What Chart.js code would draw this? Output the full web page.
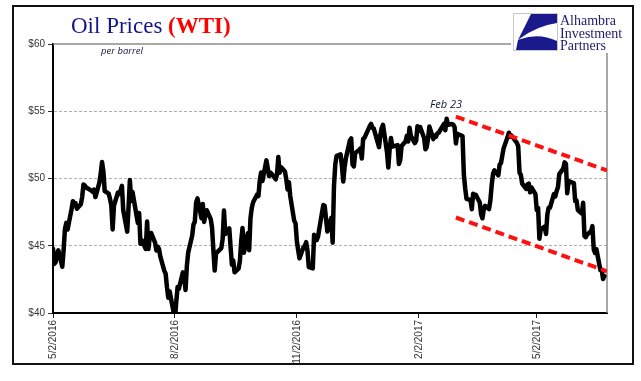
<!DOCTYPE html>
<html><head><meta charset="utf-8">
<script src="https://cdn.jsdelivr.net/npm/chart.js@4.4.1/dist/chart.umd.min.js"></script>
<style>
html,body{margin:0;padding:0;background:#fff;}
#wrap{position:relative;width:641px;height:381px;overflow:hidden;background:#fff;}
#chart{position:absolute;left:0;top:0;}
.frame{position:absolute;left:12px;top:5px;width:622px;height:360px;border:2px solid #111;box-sizing:border-box;pointer-events:none;}
.title{position:absolute;left:71px;top:14px;font:23px/23px "Liberation Serif",serif;color:#15158a;white-space:nowrap;}
.title b{color:#ff0000;}
.note{position:absolute;font-style:italic;color:#14143c;white-space:nowrap;font-family:"Open Sans",sans-serif;}
.logo{position:absolute;left:511px;top:8px;width:121px;height:45px;background:#fff;}
.logobox{position:absolute;left:2px;top:5px;width:45px;height:38px;border:1px solid #c8c8c8;box-sizing:border-box;background:#fff;}
.logotext{position:absolute;left:49px;top:7px;font:14px/12.7px "Liberation Serif",serif;color:#1c1c6e;white-space:nowrap;}
</style></head>
<body>
<div id="wrap">
<canvas id="chart" width="641" height="381"></canvas>
<div class="frame"></div>
<div class="title">Oil Prices <b>(WTI)</b></div>
<div class="note" style="left:101px;top:46px;font-size:9.5px;line-height:10px;">per barrel</div>
<div class="note" style="left:430px;top:98px;font-size:11px;line-height:11px;">Feb 23</div>
<div class="logo">
  <div class="logobox">
    <svg width="43" height="36" viewBox="0 0 43 36">
      <path d="M17,0 L43,0 L43,9 Q22,12 4,26 Z" fill="#1a1a8c"/>
      <path d="M4,26 Q24,18 43,27 L43,36 L2,36 Z" fill="#1a1a8c"/>
    </svg>
  </div>
  <div class="logotext">Alhambra<br>Investment<br>Partners</div>
</div>
</div>
<script>
// ---- data (WTI daily close, USD per barrel) ----
const dates = [
"2016-05-02","2016-05-03","2016-05-04","2016-05-05","2016-05-06","2016-05-09","2016-05-10","2016-05-11","2016-05-12","2016-05-13",
"2016-05-16","2016-05-17","2016-05-18","2016-05-19","2016-05-20","2016-05-23","2016-05-24","2016-05-25","2016-05-26","2016-05-27",
"2016-05-31","2016-06-01","2016-06-02","2016-06-03","2016-06-06","2016-06-07","2016-06-08","2016-06-09","2016-06-10","2016-06-13",
"2016-06-14","2016-06-15","2016-06-16","2016-06-17","2016-06-20","2016-06-21","2016-06-22","2016-06-23","2016-06-24","2016-06-27",
"2016-06-28","2016-06-29","2016-06-30","2016-07-01","2016-07-05","2016-07-06","2016-07-07","2016-07-08","2016-07-11","2016-07-12",
"2016-07-13","2016-07-14","2016-07-15","2016-07-18","2016-07-19","2016-07-20","2016-07-21","2016-07-22","2016-07-25","2016-07-26",
"2016-07-27","2016-07-28","2016-07-29","2016-08-01","2016-08-02","2016-08-03","2016-08-04","2016-08-05","2016-08-08","2016-08-09",
"2016-08-10","2016-08-11","2016-08-12","2016-08-15","2016-08-16","2016-08-17","2016-08-18","2016-08-19","2016-08-22","2016-08-23",
"2016-08-24","2016-08-25","2016-08-26","2016-08-29","2016-08-30","2016-08-31","2016-09-01","2016-09-02","2016-09-06","2016-09-07",
"2016-09-08","2016-09-09","2016-09-12","2016-09-13","2016-09-14","2016-09-15","2016-09-16","2016-09-19","2016-09-20","2016-09-21",
"2016-09-22","2016-09-23","2016-09-26","2016-09-27","2016-09-28","2016-09-29","2016-09-30","2016-10-03","2016-10-04","2016-10-05",
"2016-10-06","2016-10-07","2016-10-10","2016-10-11","2016-10-12","2016-10-13","2016-10-14","2016-10-17","2016-10-18","2016-10-19",
"2016-10-20","2016-10-21","2016-10-24","2016-10-25","2016-10-26","2016-10-27","2016-10-28","2016-10-31","2016-11-01","2016-11-02",
"2016-11-03","2016-11-04","2016-11-07","2016-11-08","2016-11-09","2016-11-10","2016-11-11","2016-11-14","2016-11-15","2016-11-16",
"2016-11-17","2016-11-18","2016-11-21","2016-11-22","2016-11-23","2016-11-25","2016-11-28","2016-11-29","2016-11-30","2016-12-01",
"2016-12-02","2016-12-05","2016-12-06","2016-12-07","2016-12-08","2016-12-09","2016-12-12","2016-12-13","2016-12-14","2016-12-15",
"2016-12-16","2016-12-19","2016-12-20","2016-12-21","2016-12-22","2016-12-23","2016-12-27","2016-12-28","2016-12-29","2016-12-30",
"2017-01-03","2017-01-04","2017-01-05","2017-01-06","2017-01-09","2017-01-10","2017-01-11","2017-01-12","2017-01-13","2017-01-17",
"2017-01-18","2017-01-19","2017-01-20","2017-01-23","2017-01-24","2017-01-25","2017-01-26","2017-01-27","2017-01-30","2017-01-31",
"2017-02-01","2017-02-02","2017-02-03","2017-02-06","2017-02-07","2017-02-08","2017-02-09","2017-02-10","2017-02-13","2017-02-14",
"2017-02-15","2017-02-16","2017-02-17","2017-02-21","2017-02-22","2017-02-23","2017-02-24","2017-02-27","2017-02-28","2017-03-01",
"2017-03-02","2017-03-03","2017-03-06","2017-03-07","2017-03-08","2017-03-09","2017-03-10","2017-03-13","2017-03-14","2017-03-15",
"2017-03-16","2017-03-17","2017-03-20","2017-03-21","2017-03-22","2017-03-23","2017-03-24","2017-03-27","2017-03-28","2017-03-29",
"2017-03-30","2017-03-31","2017-04-03","2017-04-04","2017-04-05","2017-04-06","2017-04-07","2017-04-10","2017-04-11","2017-04-12",
"2017-04-13","2017-04-17","2017-04-18","2017-04-19","2017-04-20","2017-04-21","2017-04-24","2017-04-25","2017-04-26","2017-04-27",
"2017-04-28","2017-05-01","2017-05-02","2017-05-03","2017-05-04","2017-05-05","2017-05-08","2017-05-09","2017-05-10","2017-05-11",
"2017-05-12","2017-05-15","2017-05-16","2017-05-17","2017-05-18","2017-05-19","2017-05-22","2017-05-23","2017-05-24","2017-05-25",
"2017-05-26","2017-05-30","2017-05-31","2017-06-01","2017-06-02","2017-06-05","2017-06-06","2017-06-07","2017-06-08","2017-06-09",
"2017-06-12","2017-06-13","2017-06-14","2017-06-15","2017-06-16","2017-06-19","2017-06-20","2017-06-21","2017-06-22"
];
const wtiPrices = [
44.78,43.65,43.78,44.32,44.66,43.44,44.66,46.23,46.70,46.21,
47.72,48.31,48.19,48.16,47.75,48.08,48.62,49.56,49.48,49.33,
49.10,49.01,49.17,48.62,49.69,50.36,51.23,50.56,49.07,48.88,
48.49,48.01,46.21,47.98,48.96,48.85,49.13,49.45,47.64,46.05,
47.85,49.88,48.33,48.99,46.70,47.43,45.14,45.41,44.76,46.80,
44.75,45.68,45.95,45.24,44.65,44.94,44.75,44.19,43.13,42.92,
41.92,41.14,41.60,40.06,39.51,40.83,41.93,41.80,43.02,42.77,
41.71,43.49,44.49,45.74,46.58,46.79,48.22,48.52,47.05,48.10,
46.77,47.33,47.64,46.98,46.35,44.70,43.16,44.44,44.83,45.50,
47.62,45.88,46.29,44.90,43.58,43.91,43.03,43.30,43.85,45.34,
46.32,44.48,45.93,44.67,47.05,47.83,48.24,48.81,48.69,49.83,
50.44,49.81,51.35,50.79,50.18,50.44,50.35,49.94,50.29,51.60,
50.43,50.85,50.52,49.96,49.18,49.72,48.70,46.86,46.67,45.34,
44.66,44.07,44.89,44.98,45.27,44.66,43.41,43.32,45.81,45.57,
45.42,45.69,47.49,48.03,47.96,46.06,47.08,45.23,49.44,51.06,
51.68,51.79,50.93,49.77,50.84,51.50,52.83,52.98,51.04,50.90,
51.90,52.12,52.23,51.49,52.95,53.02,53.90,54.06,53.77,53.72,
52.33,53.26,53.76,53.99,51.96,50.82,52.19,53.01,52.37,52.48,
51.08,51.37,52.42,52.75,53.18,52.75,53.78,53.17,52.63,52.81,
53.88,53.54,53.83,53.01,52.17,52.34,53.00,53.86,52.93,53.20,
53.11,53.36,53.40,54.06,53.59,54.45,53.99,54.05,54.01,53.83,
52.61,53.33,53.20,53.14,50.28,49.28,48.49,48.40,47.72,48.86,
48.75,48.78,48.22,47.34,47.04,47.70,47.97,47.73,48.37,49.51,
50.35,50.60,50.24,51.03,51.15,51.70,52.24,53.08,53.40,53.11,
53.18,52.65,52.41,50.44,50.27,49.62,49.23,49.56,49.62,48.97,
49.33,48.84,47.66,47.82,45.52,46.22,46.43,45.88,47.33,47.83,
47.84,48.85,48.66,49.07,49.35,50.33,50.73,51.20,51.10,48.90,
49.80,49.66,48.32,48.36,47.66,47.40,48.19,45.72,45.64,45.83,
46.08,46.46,44.73,44.46,44.74,43.20,43.23,42.53,42.74
];
// channel (red dashed trend lines)
const trendDates = ["2017-03-02","2017-06-24"];
const upperTrend = [54.6, 50.6];
const lowerTrend = [47.1, 43.1];
// axes
const startDate = "2016-05-02";
const endDate = "2017-06-24";
const tickDates = ["2016-05-02","2016-08-02","2016-11-02","2017-02-02","2017-05-02"];
const tickLabels = ["5/2/2016","8/2/2016","11/2/2016","2/2/2017","5/2/2017"];
const yMin = 40, yMax = 60, yStep = 5;

function dayNum(s){
  const [y,m,d] = s.split('-').map(Number);
  const [y0,m0,d0] = startDate.split('-').map(Number);
  return Math.round((Date.UTC(y,m-1,d) - Date.UTC(y0,m0-1,d0)) / 86400000);
}
const priceData = dates.map((d,i)=>({x:dayNum(d), y:wtiPrices[i]}));
const upperData = trendDates.map((d,i)=>({x:dayNum(d), y:upperTrend[i]}));
const lowerData = trendDates.map((d,i)=>({x:dayNum(d), y:lowerTrend[i]}));
const tickDays = tickDates.map(dayNum);

const frameLines = {
  id:'frameLines',
  beforeDatasetsDraw(chart){
    const {ctx, chartArea:a} = chart;
    ctx.save();
    ctx.strokeStyle = '#8c8c8c';
    ctx.lineWidth = 1.5;
    ctx.beginPath();
    ctx.moveTo(a.left, a.top);
    ctx.lineTo(a.right, a.top);
    ctx.lineTo(a.right, a.bottom);
    ctx.stroke();
    ctx.restore();
  }
};

new Chart(document.getElementById('chart'), {
  type: 'line',
  data: {
    datasets: [
      {data: upperData, borderColor:'#ff1010', borderWidth:4, borderDash:[9,5], pointRadius:0, fill:false},
      {data: lowerData, borderColor:'#ff1010', borderWidth:4, borderDash:[9,5], pointRadius:0, fill:false},
      {data: priceData, borderColor:'#000', borderWidth:4.5, pointRadius:0, tension:0, fill:false,
       borderJoinStyle:'round', borderCapStyle:'round'}
    ]
  },
  plugins: [frameLines],
  options: {
    responsive:false, animation:false,
    layout:{padding:{left:0, top:44, right:34, bottom:0}},
    plugins:{legend:{display:false}, tooltip:{enabled:false}},
    scales:{
      x:{
        type:'linear', min:0, max:dayNum(endDate),
        afterFit(s){ s.height = 68; },
        afterBuildTicks(s){ s.ticks = tickDays.map(v=>({value:v})); },
        grid:{drawOnChartArea:false, drawTicks:true, tickLength:5, tickColor:'#222', color:'#222'},
        border:{display:true, color:'#000', width:2},
        ticks:{
          autoSkip:false, minRotation:90, maxRotation:90, padding:2,
          font:{family:'"Liberation Sans", Arial, sans-serif', size:10}, color:'#333',
          callback:(v,i)=>tickLabels[i]
        }
      },
      y:{
        min:yMin, max:yMax,
        afterFit(s){ s.width = 53; },
        grid:{
          color:(c)=> (c.tick && (c.tick.value===yMin || c.tick.value===yMax)) ? 'rgba(0,0,0,0)' : '#b0b0b0',
          lineWidth:1, tickLength:5, tickColor:'#333'
        },
        border:{display:true, color:'#000', width:2, dash:[3,2]},
        ticks:{
          stepSize:yStep, padding:3,
          font:{family:'"Liberation Sans", Arial, sans-serif', size:10}, color:'#333',
          callback:(v)=>'$'+v
        }
      }
    }
  }
});
</script>
</body></html>
